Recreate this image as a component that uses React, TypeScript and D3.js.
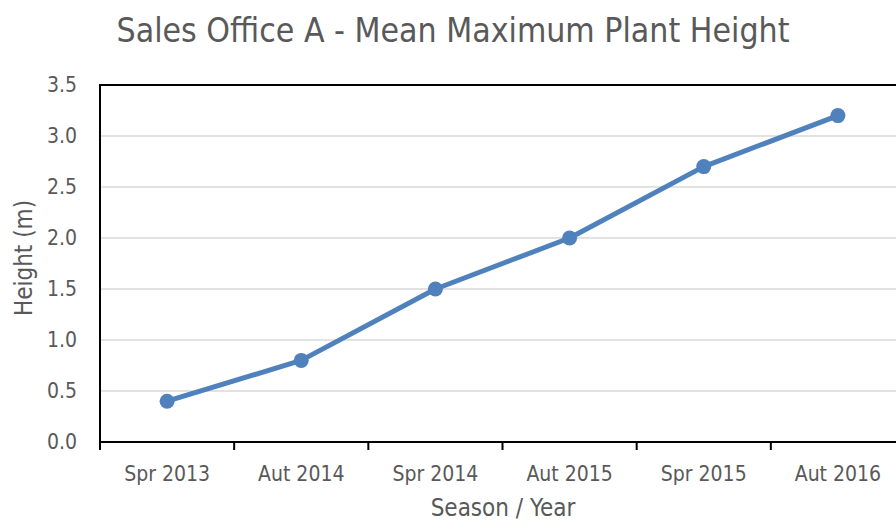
import React from 'react';
import * as d3 from 'd3';

const categories = ['Spr 2013', 'Aut 2014', 'Spr 2014', 'Aut 2015', 'Spr 2015', 'Aut 2016'];
const heights = [0.4, 0.8, 1.5, 2.0, 2.7, 3.2];
const yTicks = [0, 0.5, 1, 1.5, 2, 2.5, 3, 3.5];

const W = 896;
const H = 523;
const font = '"Liberation Sans Narrow", "Arial Narrow", "DejaVu Sans Condensed", sans-serif';
const grey = '#595959';

const App = () => {
  const left = 100;
  const right = 905;
  const top = 85;
  const bottom = 442;

  const x = d3.scaleBand().domain(categories).range([left, right]);
  const y = d3.scaleLinear().domain([0, 3.5]).range([bottom, top]);

  const line = d3.line<number>()
    .x((d, i) => x(categories[i])! + x.bandwidth() / 2)
    .y(d => y(d));

  const tickXs = categories.map(c => x(c)!).concat([right]);

  return (
    <svg width={W} height={H} style={{ position: 'absolute', left: 0, top: 0 }}>
      <rect width={W} height={H} fill="#fff" />
      <text x={453} y={42} textAnchor="middle" fontFamily={font} fontSize={33.5} fill={grey}>
        Sales Office A - Mean Maximum Plant Height
      </text>

      {/* grid */}
      {yTicks.slice(1, -1).map(t => (
        <line key={t} x1={left} x2={right} y1={y(t)} y2={y(t)} stroke="#d9d9d9" strokeWidth={1.5} />
      ))}
      <line x1={left} x2={right} y1={y(3.5)} y2={y(3.5)} stroke="#000" strokeWidth={2} />

      {/* y labels */}
      {yTicks.map(t => (
        <text key={t} x={77} y={y(t)} dy="0.35em" textAnchor="end" fontFamily={font} fontSize={21} fill={grey}>
          {d3.format('.1f')(t)}
        </text>
      ))}

      {/* axes */}
      <line x1={left} x2={left} y1={y(3.5) - 1} y2={bottom + 8} stroke="#000" strokeWidth={2} />
      <line x1={left} x2={right} y1={bottom} y2={bottom} stroke="#000" strokeWidth={2} />
      {tickXs.map((tx, i) => (
        <line key={i} x1={tx} x2={tx} y1={bottom} y2={bottom + 8} stroke="#000" strokeWidth={2} />
      ))}

      {/* x labels */}
      {categories.map(c => (
        <text key={c} x={x(c)! + x.bandwidth() / 2} y={481} textAnchor="middle" fontFamily={font} fontSize={21} fill={grey}>
          {c}
        </text>
      ))}

      <text x={503} y={516} textAnchor="middle" fontFamily={font} fontSize={24} fill={grey}>
        Season / Year
      </text>
      <text transform={`translate(32,258) rotate(-90)`} textAnchor="middle" fontFamily={font} fontSize={24} fill={grey}>
        Height (m)
      </text>

      {/* series */}
      <path d={line(heights) || ''} fill="none" stroke="#4f81bd" strokeWidth={5} strokeLinejoin="round" />
      {heights.map((h, i) => (
        <circle key={i} cx={x(categories[i])! + x.bandwidth() / 2} cy={y(h)} r={7.5} fill="#4f81bd" />
      ))}
    </svg>
  );
};

export default App;
